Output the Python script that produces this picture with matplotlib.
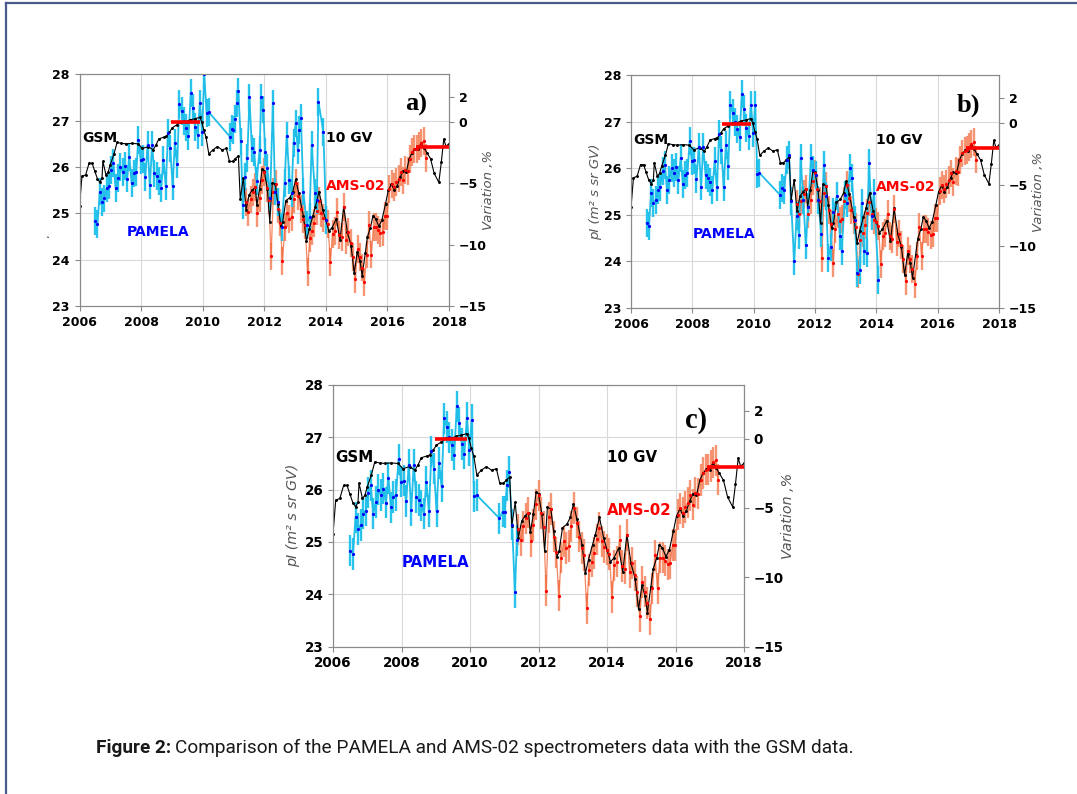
import numpy as np
import matplotlib.pyplot as plt
from matplotlib.lines import Line2D
from matplotlib.transforms import Bbox, TransformedBbox

plt.rcParams['font.family'] = 'DejaVu Sans'
plt.rcParams['font.weight'] = 'bold'

# GSM, 10 GV (left axis, pI units)
gsm_t = [2006.00, 2006.08, 2006.20, 2006.31, 2006.41, 2006.49, 2006.58, 2006.66, 2006.73, 2006.76,
         2006.86, 2006.93, 2007.00, 2007.12, 2007.22, 2007.36, 2007.51, 2007.70, 2007.90, 2008.04,
         2008.24, 2008.39, 2008.48, 2008.58, 2008.73, 2008.82, 2008.92, 2009.02, 2009.16, 2009.31,
         2009.46, 2009.60, 2009.75, 2009.90, 2009.97, 2010.04, 2010.11, 2010.20, 2010.33, 2010.48,
         2010.63, 2010.77, 2010.87, 2010.97, 2011.06, 2011.16, 2011.22, 2011.32, 2011.41, 2011.51,
         2011.61, 2011.71, 2011.76, 2011.85, 2011.93, 2012.00, 2012.10, 2012.18, 2012.26, 2012.36,
         2012.44, 2012.54, 2012.60, 2012.70, 2012.83, 2012.93, 2013.02, 2013.12, 2013.27, 2013.37,
         2013.46, 2013.58, 2013.66, 2013.78, 2013.90, 2014.00, 2014.10, 2014.20, 2014.34, 2014.46,
         2014.58, 2014.70, 2014.82, 2014.92, 2015.02, 2015.11, 2015.18, 2015.28, 2015.35, 2015.45,
         2015.53, 2015.62, 2015.72, 2015.82, 2015.94, 2016.03, 2016.13, 2016.22, 2016.32, 2016.42,
         2016.51, 2016.61, 2016.71, 2016.80, 2016.90, 2017.00, 2017.09, 2017.19, 2017.28, 2017.40,
         2017.52, 2017.67, 2017.75, 2017.83, 2017.90, 2018.00]
gsm_v = [25.16, 25.80, 25.83, 26.08, 26.08, 25.92, 25.75, 25.67, 25.76, 26.12,
         25.83, 25.89, 26.05, 26.28, 26.53, 26.51, 26.50, 26.51, 26.50, 26.40,
         26.44, 26.37, 26.47, 26.61, 26.64, 26.66, 26.75, 26.85, 26.91, 26.98,
         26.98, 27.02, 27.04, 27.07, 26.98, 26.79, 26.64, 26.28, 26.37, 26.44,
         26.37, 26.40, 26.12, 26.12, 26.18, 26.24, 25.31, 25.76, 25.08, 25.40,
         25.50, 25.56, 25.18, 25.53, 25.95, 25.92, 25.53, 24.82, 25.66, 25.63,
         25.21, 24.72, 24.82, 25.27, 25.34, 25.47, 25.73, 25.44, 24.95, 24.40,
         24.66, 24.95, 25.14, 25.47, 25.08, 24.85, 24.62, 24.69, 24.88, 24.43,
         25.14, 24.59, 24.30, 23.71, 24.17, 23.97, 23.65, 24.14, 24.49, 24.69,
         24.95, 24.88, 24.72, 24.85, 25.21, 25.50, 25.63, 25.50, 25.60, 25.79,
         25.92, 25.89, 26.18, 26.31, 26.39, 26.38, 26.51, 26.41, 26.31, 26.18,
         25.86, 25.67, 26.10, 26.60, 26.45, 26.50]

# PAMELA, part shared by all three panels (one point per Bartels rotation)
pam_start, pam_step = 2006.51, 0.0739
pam_common = [24.83, 24.77, 25.47, 25.25, 25.32, 25.54, 25.60, 25.94, 26.08, 25.54,
              25.76, 26.00, 25.90, 26.02, 25.75, 26.22, 25.66, 25.86, 25.90, 26.58,
              26.15, 26.17, 25.78, 26.47, 25.61, 26.47, 25.86, 25.80, 25.70, 25.54,
              26.15, 25.59, 26.73, 26.40, 25.59, 26.51, 26.06, 27.36, 27.20, 27.00,
              26.85, 26.67, 27.59, 27.28, 26.87, 26.69, 27.37, 26.76]

# PAMELA after 2010, different in each panel
pam_a_t = [2010.05, 2010.13, 2010.19, 2010.89, 2010.95, 2011.00, 2011.05, 2011.11, 2011.16, 2011.24,
           2011.30, 2011.38, 2011.45, 2011.52, 2011.60, 2011.67, 2011.75, 2011.85, 2011.90, 2011.97,
           2012.03, 2012.10, 2012.19, 2012.28, 2012.35, 2012.44, 2012.57, 2012.66, 2012.73, 2012.82,
           2012.89, 2012.95, 2013.02, 2013.09, 2013.14, 2013.19, 2013.27, 2013.38, 2013.47, 2013.54,
           2013.65, 2013.71, 2013.76, 2013.92, 2014.01]
pam_a_v = [28.00, 27.16, 27.19, 26.65, 26.83, 26.80, 27.03, 27.37, 27.63, 26.55,
           25.18, 25.79, 26.20, 27.50, 26.40, 26.33, 25.70, 26.37, 27.50, 27.24,
           26.33, 25.97, 25.32, 27.37, 25.47, 25.25, 24.71, 25.65, 26.67, 25.72,
           25.43, 26.51, 26.94, 26.37, 26.80, 27.05, 25.47, 24.75, 24.93, 26.47,
           25.43, 25.29, 27.41, 26.76, 24.86]
pam_b_t = [2010.05, 2010.12, 2010.19, 2010.86, 2010.93, 2011.00, 2011.08, 2011.15, 2011.22, 2011.32,
           2011.40, 2011.48, 2011.53, 2011.62, 2011.70, 2011.78, 2011.87, 2011.95, 2012.02, 2012.11,
           2012.20, 2012.29, 2012.36, 2012.43, 2012.51, 2012.60, 2012.71, 2012.82, 2012.87, 2012.98,
           2013.05, 2013.14, 2013.20, 2013.30, 2013.38, 2013.47, 2013.52, 2013.60, 2013.68, 2013.76,
           2013.85, 2013.92, 2014.07]
pam_b_v = [27.36, 25.87, 25.90, 25.43, 25.58, 25.54, 26.18, 26.29, 25.29, 24.00,
           24.97, 24.57, 26.22, 25.33, 24.36, 25.18, 26.22, 25.97, 25.86, 25.32,
           24.60, 26.08, 25.40, 24.07, 24.32, 25.07, 25.40, 24.54, 24.22, 25.43,
           25.25, 26.00, 25.79, 24.90, 23.75, 23.82, 25.25, 24.22, 24.18, 26.11,
           24.97, 25.48, 23.61]
pam_c_t = [2010.05, 2010.12, 2010.19, 2010.86, 2010.95, 2011.01, 2011.08, 2011.14, 2011.23, 2011.31,
           2011.37]
pam_c_v = [27.34, 25.87, 25.90, 25.45, 25.58, 25.57, 26.08, 26.34, 25.33, 24.04,
           25.03]

# AMS-02, one point per Bartels rotation
ams_start, ams_step = 2011.41, 0.0739
ams_v = [25.24, 25.03, 25.30, 25.45, 25.56, 25.01, 25.32, 25.72, 25.89, 25.55,
         25.29, 24.07, 25.47, 25.63, 25.10, 24.80, 23.97, 24.70, 25.01, 24.88,
         24.92, 25.30, 25.65, 25.37, 25.10, 24.88, 24.75, 23.73, 24.46, 24.62,
         24.79, 25.05, 25.27, 25.01, 24.90, 24.85, 24.77, 23.95, 24.55, 24.62,
         25.03, 24.54, 24.49, 25.13, 24.42, 24.60, 24.36, 24.05, 23.58, 24.23,
         24.05, 23.83, 23.52, 24.11, 24.74, 24.11, 24.70, 24.70, 24.64, 24.57,
         24.60, 24.94, 24.94, 25.52, 25.64, 25.56, 25.67, 25.75, 25.89, 25.71,
         25.94, 25.92, 26.18, 26.32, 26.38, 26.39, 26.45, 26.52, 26.56, 26.19]
err = 0.3

# reference levels (red bars): start, end, level
ref_pam = (2008.97, 2009.92, 26.96)
ref_ams = (2016.92, 2018.0, 26.43)

var_ticks = [2, 0, -5, -10, -15]
year_ticks = [2006, 2008, 2010, 2012, 2014, 2016, 2018]

pam_t_common = pam_start + pam_step * np.arange(len(pam_common))
ams_t = ams_start + ams_step * np.arange(len(ams_v))

W, H = 1077, 794
fig = plt.figure(figsize=(W / 100, H / 100), dpi=100)

spine_c = '#8a8a8a'


def panel(px, tail_t, tail_v, tag, s, tag_xy, pamela_x, clip_left=None):
    left, top, right, bottom = px
    ax = fig.add_axes([left / W, 1 - bottom / H, (right - left) / W, (bottom - top) / H])
    pt = np.concatenate([pam_t_common, tail_t])
    pv = np.concatenate([pam_common, tail_v])

    ax.errorbar(ams_t, ams_v, yerr=err, fmt='-', color='#f26a3c', ecolor='#f47b50',
                elinewidth=1.7, lw=0.9, alpha=0.8, zorder=2)
    ax.errorbar(pt, pv, yerr=err, fmt='-', color='#20bde8', ecolor='#28c4ee',
                elinewidth=1.7, lw=1.3, zorder=3)
    ax.plot(gsm_t, gsm_v, '-', color='black', lw=0.8, marker='.', ms=2.2, zorder=4)
    ax.plot(ams_t, ams_v, 'o', color='red', ms=2.3, mew=0, zorder=5)
    ax.plot(pt, pv, 'o', color='blue', ms=2.3, mew=0, zorder=5)
    for x0, x1, lvl in (ref_pam, ref_ams):
        ax.hlines(lvl, x0, x1, color='red', lw=2.6, zorder=6)

    ax.set_xlim(2006, 2018)
    ax.set_ylim(23, 28)
    ax.set_xticks(year_ticks)
    ax.set_yticks(range(23, 29))
    ax.grid(True, color='#d9d9d9', lw=0.8)
    ax.set_axisbelow(True)
    fs = 9 * s
    ax.tick_params(labelsize=fs, color=spine_c, length=3.5)
    for sp in ax.spines.values():
        sp.set_color(spine_c)

    ax2 = ax.twinx()
    ax2.set_ylim(-15, 3.86)
    ax2.set_yticks(var_ticks)
    ax2.tick_params(labelsize=fs, color=spine_c, length=3.5)
    for sp in ax2.spines.values():
        sp.set_color(spine_c)
    ax2.set_ylabel('Variation ,%', fontsize=9.5 * s, style='italic', fontweight='normal',
                   color='#555555')
    ax2.yaxis.set_label_coords(1.09, 0.5)

    yl = ax.set_ylabel('pI (m² s sr GV)', fontsize=9.5 * s, style='italic',
                       fontweight='normal', color='#555555')
    ax.yaxis.set_label_coords(-0.08, 0.5)
    if clip_left is not None:
        yl.set_clip_box(TransformedBbox(Bbox([[clip_left / W, 0], [1, 1]]), fig.transFigure))
        yl.set_clip_on(True)

    tfs = 10 * s
    ax.text(2006.08, 26.62, 'GSM', fontsize=tfs, color='black', va='center', zorder=7)
    ax.text(2014.0, 26.62, '10 GV', fontsize=tfs, color='black', va='center', zorder=7)
    ax.text(2014.0, 25.6, 'AMS-02', fontsize=tfs, color='red', va='center', zorder=7)
    ax.text(pamela_x, 24.6, 'PAMELA', fontsize=tfs, color='blue', va='center', zorder=7)
    ax.text(tag_xy[0], tag_xy[1], tag, fontsize=19 * s, family='Liberation Serif',
            ha='center', va='center', zorder=7)
    return ax


panel((79.5, 74.3, 449, 306), pam_a_t, pam_a_v, 'a)', 1.0, (2016.93, 27.36), 2007.54, clip_left=47)
panel((631, 75.3, 999, 308), pam_b_t, pam_b_v, 'b)', 1.0, (2017.0, 27.36), 2008.0)
panel((333, 385, 744, 646.5), pam_c_t, pam_c_v, 'c)', 1.08, (2016.6, 27.33), 2008.0)

# page frame
frame_c = '#4b5a8e'
fig.add_artist(Line2D([6 / W, 6 / W], [0, 1 - 3 / H], color=frame_c, lw=1.6))
fig.add_artist(Line2D([6 / W, 1], [1 - 3 / H, 1 - 3 / H], color=frame_c, lw=1.6))

# caption
cap_fs = 13.7
t1 = fig.text(96 / W, 1 - 748 / H, 'Figure 2:', fontsize=cap_fs, family='Roboto',
              fontweight='bold', color='#1a1a1a', va='center')
fig.canvas.draw()
bb = t1.get_window_extent(fig.canvas.get_renderer())
fig.text((bb.x1 + 4) / W, 1 - 748 / H,
         'Comparison of the PAMELA and AMS-02 spectrometers data with the GSM data.',
         fontsize=cap_fs, family='Roboto', fontweight='normal', color='#1a1a1a', va='center')

fig.savefig('out.png', dpi=100)
